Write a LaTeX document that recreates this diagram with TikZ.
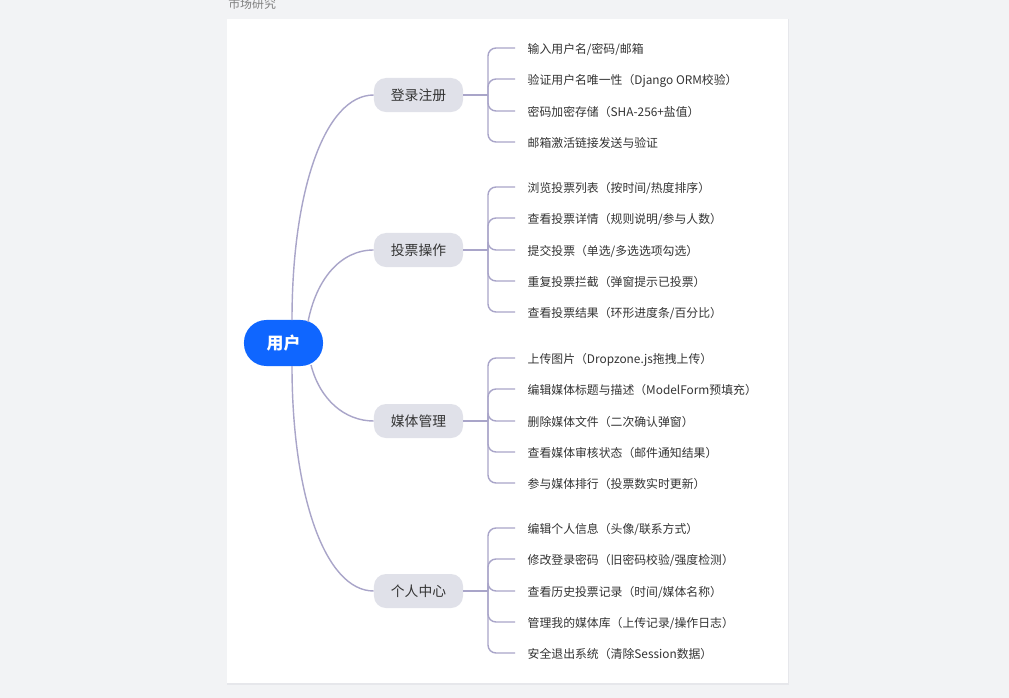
\documentclass[tikz,border=0pt]{standalone}
\usepackage{fontspec}
\setmainfont{Noto Sans CJK SC}
\definecolor{pagebg}{HTML}{F2F3F5}
\definecolor{cardedge}{HTML}{E6E7EB}
\definecolor{rootblue}{HTML}{0F66FF}
\definecolor{topicgray}{HTML}{E0E1E9}
\definecolor{linkpurple}{HTML}{A9A5C9}
\definecolor{inktext}{HTML}{333333}
\tikzset{
    rootnode/.style={fill=rootblue, text=white, rounded corners=0.56cm, minimum width=1.975cm, minimum height=1.15cm, inner sep=0pt, font=\fontsize{12}{14}\selectfont\bfseries},
    topic/.style={fill=topicgray, text=inktext, rounded corners=0.3cm, minimum width=2.225cm, minimum height=0.85cm, inner sep=0pt, font=\fontsize{9.8}{12}\selectfont},
    leaf/.style={anchor=west, text=inktext, inner xsep=0.31cm, inner ysep=0pt, text height=8pt, text depth=0.2pt, font=\fontsize{8.43}{10}\selectfont},
    link/.style={draw=linkpurple, line width=1pt},
    bracket/.style={link, rounded corners=0.2cm}
}
\begin{document}
\begin{tikzpicture}[x=0.025cm, y=-0.025cm]
    \useasboundingbox (0, 0) rectangle (1009, 698);
    \fill[pagebg] (0, 0) rectangle (1009, 698);
    \fill[cardedge] (226.5, 18.5) rectangle (788.5, 684.5);
    \fill[white] (227, 19) rectangle (788, 683);
    \node[anchor=west, inner sep=0pt, text=gray, font=\fontsize{8.5}{10}\selectfont] (title) at (228, 4) {市场研究};

    \node[rootnode] (user) at (283.5, 343) {用户};
    \node[topic] (login) at (418.5, 95) {登录注册};
    \node[topic] (vote) at (418.5, 250) {投票操作};
    \node[topic] (media) at (418.5, 421) {媒体管理};
    \node[topic] (center) at (418.5, 591) {个人中心};

    \coordinate (userA) at (292, 320);
    \coordinate (userB) at (308, 322);
    \coordinate (userC) at (311, 365);
    \coordinate (userD) at (292, 366);
    \draw[link] (userA) .. controls (292, 190) and (325, 95) .. (login.west);
    \draw[link] (userB) .. controls (316, 280) and (340, 250) .. (vote.west);
    \draw[link] (userC) .. controls (320, 400) and (345, 421) .. (media.west);
    \draw[link] (userD) .. controls (292, 495) and (325, 591) .. (center.west);

    \foreach \name/\y/\txt in {
        a1/48/{输入用户名/密码/邮箱},
        a2/79/{验证用户名唯一性（Django ORM校验）},
        a3/111/{密码加密存储（SHA-256+盐值）},
        a4/142/{邮箱激活链接发送与验证}} {
        \node[leaf] (\name) at (515, \y) {\txt};
        \coordinate (forkA) at (488, 95);
        \draw[bracket] (forkA) |- (\name.west);
    }
    \draw[link] (login.east) -- (forkA);

    \foreach \name/\y/\txt in {
        b1/187/{浏览投票列表（按时间/热度排序）},
        b2/218/{查看投票详情（规则说明/参与人数）},
        b3/250/{提交投票（单选/多选选项勾选）},
        b4/281/{重复投票拦截（弹窗提示已投票）},
        b5/312/{查看投票结果（环形进度条/百分比）}} {
        \node[leaf] (\name) at (515, \y) {\txt};
        \coordinate (forkB) at (488, 250);
        \draw[bracket] (forkB) |- (\name.west);
    }
    \draw[link] (vote.east) -- (forkB);

    \foreach \name/\y/\txt in {
        c1/358/{上传图片（Dropzone.js拖拽上传）},
        c2/389/{编辑媒体标题与描述（ModelForm预填充）},
        c3/421/{删除媒体文件（二次确认弹窗）},
        c4/452/{查看媒体审核状态（邮件通知结果）},
        c5/483/{参与媒体排行（投票数实时更新）}} {
        \node[leaf] (\name) at (515, \y) {\txt};
        \coordinate (forkC) at (488, 421);
        \draw[bracket] (forkC) |- (\name.west);
    }
    \draw[link] (media.east) -- (forkC);

    \foreach \name/\y/\txt in {
        d1/528/{编辑个人信息（头像/联系方式）},
        d2/559/{修改登录密码（旧密码校验/强度检测）},
        d3/591/{查看历史投票记录（时间/媒体名称）},
        d4/622/{管理我的媒体库（上传记录/操作日志）},
        d5/653/{安全退出系统（清除Session数据）}} {
        \node[leaf] (\name) at (515, \y) {\txt};
        \coordinate (forkD) at (488, 591);
        \draw[bracket] (forkD) |- (\name.west);
    }
    \draw[link] (center.east) -- (forkD);
\end{tikzpicture}
\end{document}
